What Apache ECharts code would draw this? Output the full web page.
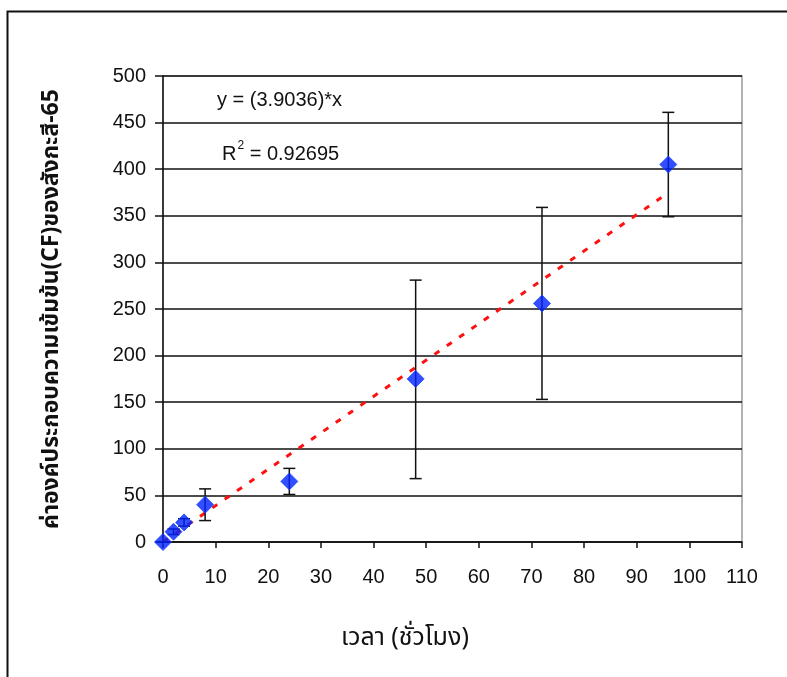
<!DOCTYPE html>
<html>
<head>
<meta charset="utf-8">
<script src="https://cdn.jsdelivr.net/npm/echarts@6/dist/echarts.min.js"></script>
<style>html,body{margin:0;padding:0;background:#fff;}#c{width:787px;height:677px;}</style>
</head>
<body>
<div id="c"></div>
<script>
// Data
var hours = [0, 2, 4, 8, 24, 48, 72, 96];
var cfMean = [0, 11, 21, 40, 65, 175, 256, 405];
var cfLow = [0, 8, 17, 23, 51, 68, 153, 349];
var cfHigh = [0, 14, 25, 57, 79, 281, 359, 461];
var slope = 3.9036;
var r2 = '0.92695';
var trendX = [0, 96];
var xTicks = {min: 0, max: 110, interval: 10};
var yTicks = {min: 0, max: 500, interval: 50};
var xTitle = 'เวลา (ชั่วโมง)';
var yTitle = 'ค่าองค์ประกอบความเข้มข้น(CF)ของสังกะสี-65';

var pts = hours.map(function (h, i) { return [h, cfMean[i]]; });
var errs = hours.map(function (h, i) { return [h, cfLow[i], cfHigh[i]]; });
var trend = trendX.map(function (x) { return [x, slope * x]; });

var numFont = '"Liberation Sans", Arial, sans-serif';
var thaiFont = '"Noto Sans Thai", "Noto Sans", "DejaVu Sans", sans-serif';

var chart = echarts.init(document.getElementById('c'));
chart.setOption({
  animation: false,
  backgroundColor: '#fff',
  grid: {left: 163, right: 45, top: 76, bottom: 135, show: true, borderColor: '#9a9a9a', borderWidth: 1.5, backgroundColor: 'transparent'},
  graphic: [
    {type: 'rect', shape: {x: 7.5, y: 11.5, width: 820, height: 720}, style: {fill: 'none', stroke: '#111', lineWidth: 2}, silent: true, z: 0},
    {type: 'text', left: 217, top: 90, style: {text: 'y = (' + slope + ')*x', font: '20px ' + numFont, fill: '#111'}, z: 10},
    {type: 'text', left: 222, top: 140, style: {text: '{a|R}{s|2}{a| = ' + r2 + '}', rich: {a: {font: '20px ' + numFont, fill: '#111', verticalAlign: 'bottom', lineHeight: 24}, s: {font: '12px ' + numFont, fill: '#111', verticalAlign: 'top', lineHeight: 24, padding: [0, 0, 14, 1]}}}, z: 10},
    {type: 'text', left: 341, top: 627, style: {text: xTitle, font: '25px ' + thaiFont, fill: '#111'}, z: 10}
  ],
  xAxis: {
    type: 'value', min: xTicks.min, max: xTicks.max, interval: xTicks.interval,
    axisLine: {show: true, onZero: false, lineStyle: {color: '#111', width: 1.5}},
    axisTick: {show: true, inside: false, length: 6, lineStyle: {color: '#111', width: 1.5}},
    axisLabel: {margin: 25, fontSize: 20, fontFamily: numFont, color: '#111'},
    splitLine: {show: false}
  },
  yAxis: {
    type: 'value', min: yTicks.min, max: yTicks.max, interval: yTicks.interval,
    name: yTitle, nameLocation: 'middle', nameGap: 98,
    nameTextStyle: {fontSize: 23, fontWeight: 'bold', fontFamily: thaiFont, color: '#111'},
    axisLine: {show: true, lineStyle: {color: '#111', width: 1.5}},
    axisTick: {show: true, inside: false, length: 8, lineStyle: {color: '#111', width: 1.5}},
    axisLabel: {margin: 17, fontSize: 20, fontFamily: numFont, color: '#111'},
    splitLine: {show: true, lineStyle: {color: '#111', width: 1.5}}
  },
  series: [
    {
      type: 'line', data: trend, showSymbol: false, symbol: 'none', z: 3,
      lineStyle: {color: '#ff1010', width: 3, type: [6, 9]}
    },
    {
      type: 'custom', data: errs, z: 4,
      renderItem: function (params, api) {
        var x = api.value(0);
        var lo = api.coord([x, api.value(1)]);
        var hi = api.coord([x, api.value(2)]);
        var cap = 6;
        var st = {stroke: '#111', lineWidth: 1.5};
        return {type: 'group', children: [
          {type: 'line', shape: {x1: lo[0], y1: lo[1], x2: hi[0], y2: hi[1]}, style: st},
          {type: 'line', shape: {x1: lo[0] - cap, y1: lo[1], x2: lo[0] + cap, y2: lo[1]}, style: st},
          {type: 'line', shape: {x1: hi[0] - cap, y1: hi[1], x2: hi[0] + cap, y2: hi[1]}, style: st}
        ]};
      }
    },
    {
      type: 'scatter', data: pts, symbol: 'diamond', symbolSize: 17, z: 5,
      itemStyle: {color: '#0022ff', borderColor: '#1f45ff', borderWidth: 1}
    }
  ]
});
</script>
</body>
</html>
